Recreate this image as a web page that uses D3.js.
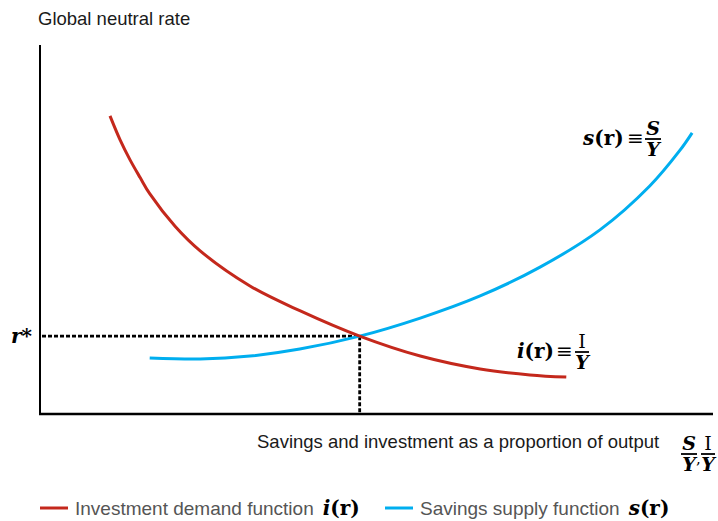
<!DOCTYPE html>
<html><head><meta charset="utf-8">
<script src="https://cdn.jsdelivr.net/npm/d3@7"></script>
<style>body{margin:0;background:#fff}svg{display:block}</style>
</head><body>
<svg id="c" width="718" height="521"></svg>
<script>
// Data (arbitrary units: x = share of output, y = neutral rate)
const investX = [10.4, 11.9, 13.4, 14.9, 16.3, 20.1, 23.8, 31.2, 38.6, 47.5, 56.5, 65.4, 72.8, 78.2];
const investY = [80.8, 74.3, 68.8, 64.0, 59.7, 50.8, 44.2, 34.7, 28.0, 21.1, 15.7, 12.2, 10.6, 10.0];
const savingsX = [16.3, 23.8, 31.2, 38.6, 47.5, 56.5, 65.4, 74.3, 83.2, 90.6, 95.1, 96.9];
const savingsY = [15.2, 14.9, 15.7, 17.6, 21.1, 26.0, 32.0, 39.8, 49.9, 61.8, 71.5, 76.2];
const equilibrium = [47.5, 21.1];
const legendLabels = ["Investment demand function", "Savings supply function"];

const svg = d3.select("#c");
const x = d3.scaleLinear().domain([0, 100]).range([40, 713]);
const y = d3.scaleLinear().domain([0, 100]).range([414, 45]);
const red = "#c4281c", blue = "#00aeef";
const serif = "'DejaVu Serif', 'Liberation Serif', serif";
const sans = "'Liberation Sans', Arial, Helvetica, sans-serif";

// axes
svg.append("line").attr("x1", x(0)).attr("x2", x(0)).attr("y1", y(100)).attr("y2", y(0))
  .attr("stroke", "#000").attr("stroke-width", 2);
svg.append("line").attr("x1", x(0)-1).attr("x2", x(100)).attr("y1", y(0)).attr("y2", y(0))
  .attr("stroke", "#000").attr("stroke-width", 2.5);

// dashed guides
svg.append("line").attr("x1", x(0)+2).attr("x2", x(equilibrium[0])).attr("y1", y(equilibrium[1])).attr("y2", y(equilibrium[1]))
  .attr("stroke", "#000").attr("stroke-width", 2.8).attr("stroke-dasharray", "4,2");
svg.append("line").attr("x1", x(equilibrium[0])).attr("x2", x(equilibrium[0])).attr("y1", y(equilibrium[1])).attr("y2", y(0))
  .attr("stroke", "#000").attr("stroke-width", 2.8).attr("stroke-dasharray", "4,2");

const line = d3.line().x(d => x(d[0])).y(d => y(d[1])).curve(d3.curveCatmullRom.alpha(0.5));
svg.append("path").datum(savingsX.map((v, i) => [v, savingsY[i]])).attr("d", line)
  .attr("fill", "none").attr("stroke", blue).attr("stroke-width", 3);
svg.append("path").datum(investX.map((v, i) => [v, investY[i]])).attr("d", line)
  .attr("fill", "none").attr("stroke", red).attr("stroke-width", 3);

// titles
svg.append("text").attr("x", 38).attr("y", 25).attr("font-family", sans).attr("font-size", 18.5)
  .attr("fill", "#1a1a1a").text("Global neutral rate");
svg.append("text").attr("x", 257).attr("y", 448).attr("font-family", sans).attr("font-size", 18.5)
  .attr("fill", "#1a1a1a").text("Savings and investment as a proportion of output");

// fraction helper
function frac(cx, lineY, num, den, opts = {}) {
  const g = svg.append("g");
  const w = opts.w || 16;
  const fs = opts.fs || 19;
  g.append("text").attr("x", cx).attr("y", lineY - 4).attr("text-anchor", "middle")
    .attr("font-family", serif).attr("font-size", fs).attr("font-weight", opts.numBold === false ? "normal" : "bold")
    .attr("font-style", opts.numItalic === false ? "normal" : "italic").text(num);
  g.append("line").attr("x1", cx - w/2).attr("x2", cx + w/2).attr("y1", lineY).attr("y2", lineY)
    .attr("stroke", "#000").attr("stroke-width", 1.8);
  g.append("text").attr("x", cx).attr("y", lineY + 17).attr("text-anchor", "middle")
    .attr("font-family", serif).attr("font-size", fs).attr("font-weight", "bold")
    .attr("font-style", "italic").text(den);
}

// axis fraction S/Y , I/Y
frac(689, 454, "S", "Y");
svg.append("text").attr("x", 696).attr("y", 464).attr("font-family", serif).attr("font-size", 15).text(",");
frac(708, 454, "I", "Y", {numBold: false, numItalic: false, w: 14});

// r*
svg.append("text").attr("x", 11).attr("y", 343).attr("font-family", serif).attr("font-size", 20)
  .attr("font-weight", "bold").attr("font-style", "italic").text("r*");

function formula(xs, ys, letter) {
  const t = svg.append("text").attr("x", xs).attr("y", ys).attr("font-family", serif)
    .attr("font-size", 20).attr("font-weight", "bold");
  t.append("tspan").attr("font-style", "italic").text(letter);
  t.append("tspan").text("(r)");
  return t;
}
// s(r) ≡ S/Y
formula(583, 145, "s");
svg.append("text").attr("x", 627).attr("y", 145).attr("font-family", serif).attr("font-size", 20).text("≡");
frac(653, 139, "S", "Y");
// i(r) ≡ I/Y
formula(517, 358, "i");
svg.append("text").attr("x", 556).attr("y", 358).attr("font-family", serif).attr("font-size", 20).text("≡");
frac(582, 352, "I", "Y", {numBold: false, numItalic: false, w: 14});

// legend
const legend = [
  {x: 40, color: red, label: legendLabels[0], letter: "i"},
  {x: 385, color: blue, label: legendLabels[1], letter: "s"}
];
legend.forEach(d => {
  svg.append("line").attr("x1", d.x).attr("x2", d.x + 28).attr("y1", 508).attr("y2", 508)
    .attr("stroke", d.color).attr("stroke-width", 3);
  const t = svg.append("text").attr("x", d.x + 35).attr("y", 515).attr("font-family", sans)
    .attr("font-size", 19).attr("fill", "#555").text(d.label);
  const w = t.node().getComputedTextLength();
  const f = svg.append("text").attr("x", d.x + 35 + w + 9).attr("y", 515).attr("font-family", serif)
    .attr("font-size", 20).attr("font-weight", "bold");
  f.append("tspan").attr("font-style", "italic").text(d.letter);
  f.append("tspan").text("(r)");
});
</script>
</body></html>
